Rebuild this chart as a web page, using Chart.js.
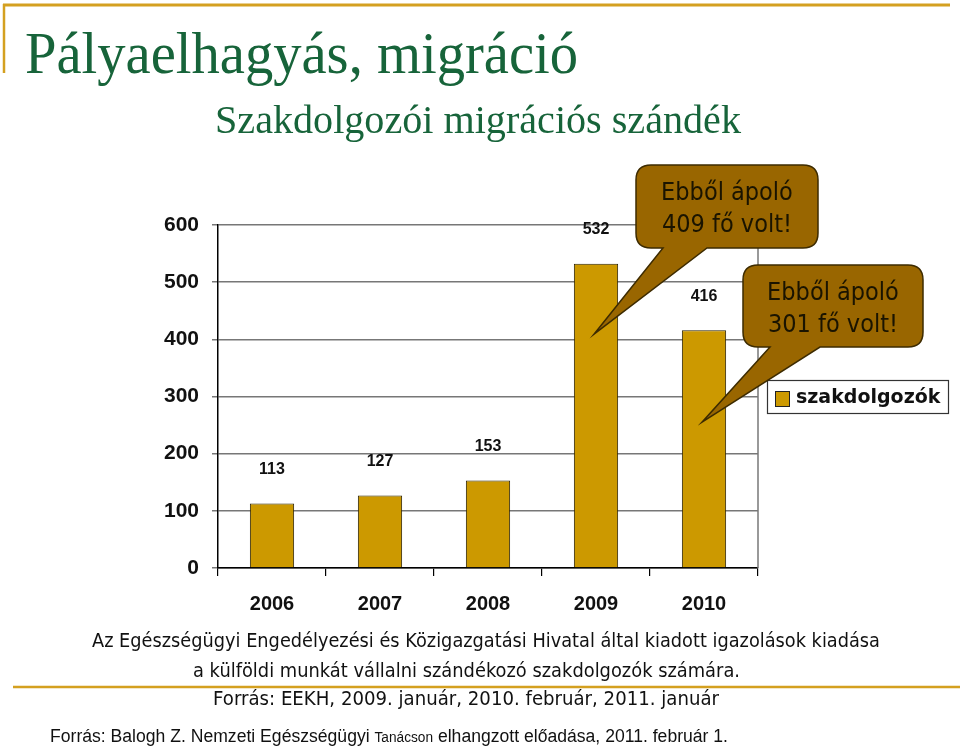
<!DOCTYPE html>
<html lang="hu">
<head>
<meta charset="utf-8">
<title>Pályaelhagyás, migráció</title>
<script src="https://cdn.jsdelivr.net/npm/chart.js@4.4.1/dist/chart.umd.min.js"></script>
<style>
  html, body { margin: 0; padding: 0; background: #fff; }
  #wrap { position: relative; width: 960px; height: 749px; overflow: hidden; }
  #c { position: absolute; left: 0; top: 0; }
  #page { position: absolute; left: 0; top: 0; pointer-events: none; }
</style>
</head>
<body>
<div id="wrap">
  <canvas id="c" width="960" height="749"></canvas>
  <svg id="page" width="960" height="749" xmlns="http://www.w3.org/2000/svg">
    <line x1="3" y1="5" x2="950" y2="5" stroke="#d4a020" stroke-width="3"/>
    <line x1="4" y1="4" x2="4" y2="73" stroke="#d4a020" stroke-width="2.5"/>
    <line x1="13" y1="687" x2="960" y2="687" stroke="#d4a020" stroke-width="2.5"/>
    <text x="25" y="73" font-family="'Liberation Serif', 'DejaVu Serif', serif" font-size="60" fill="#17643a"
          textLength="553" lengthAdjust="spacingAndGlyphs">Pályaelhagyás, migráció</text>
    <text x="215" y="133" font-family="'Liberation Serif', 'DejaVu Serif', serif" font-size="41" fill="#17643a"
          textLength="526" lengthAdjust="spacingAndGlyphs">Szakdolgozói migrációs szándék</text>
    <text x="92" y="647" font-family="'DejaVu Sans', sans-serif" font-size="19.5" fill="#111"
          textLength="788" lengthAdjust="spacingAndGlyphs">Az Egészségügyi Engedélyezési és Közigazgatási Hivatal által kiadott igazolások kiadása</text>
    <text x="193" y="677" font-family="'DejaVu Sans', sans-serif" font-size="19.5" fill="#111"
          textLength="547" lengthAdjust="spacingAndGlyphs">a külföldi munkát vállalni szándékozó szakdolgozók számára.</text>
    <text x="213" y="705" font-family="'DejaVu Sans', sans-serif" font-size="19.5" fill="#111"
          textLength="506" lengthAdjust="spacingAndGlyphs">Forrás: EEKH, 2009. január, 2010. február, 2011. január</text>
    <text x="50" y="742" font-family="'Liberation Sans', Arial, sans-serif" font-size="18" fill="#111"
          textLength="678" lengthAdjust="spacingAndGlyphs">Forrás: Balogh Z. Nemzeti Egészségügyi <tspan font-size="14">Tanácson</tspan> elhangzott előadása, 2011. február 1.</text>
  </svg>
</div>
<script>
// adatok
const years = ['2006', '2007', '2008', '2009', '2010'];
const applicants = [113, 127, 153, 532, 416];
const seriesName = 'szakdolgozók';
const yMin = 0;
const yMax = 600;
const yStep = 100;

// szövegbuborékok: melyik oszlopra mutatnak, a csúcs értéke és a szöveg
const calloutYears = ['2009', '2010'];
const calloutTipValues = [409, 255];
const calloutTexts = [
  ['Ebből ápoló', '409 fő volt!'],
  ['Ebből ápoló', '301 fő volt!']
];

const colors = {
  bar: '#cc9900',
  barBorder: '#2a2000',
  grid: '#777777',
  callout: '#996600',
  calloutBorder: '#3d2b00',
  text: '#111111'
};

// buborékok doboza (pixelben) – csak elrendezés
const calloutBoxes = [
  { l: 636, t: 165, w: 182, h: 83, baseL: 663, baseR: 707 },
  { l: 743, t: 265, w: 180, h: 82, baseL: 770, baseR: 820 }
];

function calloutPath(ctx, b, tx, ty) {
  const r = 15, R = b.l + b.w, B = b.t + b.h;
  ctx.beginPath();
  ctx.moveTo(b.l + r, b.t);
  ctx.lineTo(R - r, b.t);
  ctx.quadraticCurveTo(R, b.t, R, b.t + r);
  ctx.lineTo(R, B - r);
  ctx.quadraticCurveTo(R, B, R - r, B);
  ctx.lineTo(b.baseR, B);
  ctx.lineTo(tx, ty);
  ctx.lineTo(b.baseL, B);
  ctx.lineTo(b.l + r, B);
  ctx.quadraticCurveTo(b.l, B, b.l, B - r);
  ctx.lineTo(b.l, b.t + r);
  ctx.quadraticCurveTo(b.l, b.t, b.l + r, b.t);
  ctx.closePath();
}

const overlay = {
  id: 'overlay',
  afterDatasetsDraw(chart) {
    const { ctx, chartArea: a, scales } = chart;
    const meta = chart.getDatasetMeta(0);
    const ds = chart.data.datasets[0];
    ctx.save();

    // jobb oldali keret
    ctx.strokeStyle = colors.grid;
    ctx.lineWidth = 1.5;
    ctx.beginPath();
    ctx.moveTo(a.right, a.top);
    ctx.lineTo(a.right, a.bottom);
    ctx.stroke();

    // értékfeliratok
    ctx.fillStyle = colors.text;
    ctx.font = 'bold 16px "Liberation Sans", Arial, sans-serif';
    ctx.textAlign = 'center';
    ctx.textBaseline = 'middle';
    meta.data.forEach((bar, i) => {
      ctx.fillText(String(ds.data[i]), bar.x, bar.y - 34);
    });

    // jelmagyarázat
    ctx.fillStyle = '#fff';
    ctx.fillRect(767, 380, 181, 33);
    ctx.strokeStyle = '#333';
    ctx.lineWidth = 1.2;
    ctx.strokeRect(767.5, 380.5, 181, 33);
    ctx.fillStyle = ds.backgroundColor;
    ctx.fillRect(775, 391, 14, 15);
    ctx.strokeStyle = '#222';
    ctx.lineWidth = 1;
    ctx.strokeRect(775.5, 391.5, 14, 15);
    ctx.fillStyle = colors.text;
    ctx.font = 'bold 19px "DejaVu Sans", Verdana, sans-serif';
    ctx.textAlign = 'left';
    ctx.fillText(ds.label, 796, 398);

    // szövegbuborékok
    calloutYears.forEach((yr, k) => {
      const i = years.indexOf(yr);
      const tx = meta.data[i].x - 2;
      const ty = scales.y.getPixelForValue(calloutTipValues[k]);
      const b = calloutBoxes[k];
      calloutPath(ctx, b, tx, ty);
      ctx.fillStyle = colors.callout;
      ctx.fill();
      ctx.strokeStyle = colors.calloutBorder;
      ctx.lineWidth = 1.5;
      ctx.stroke();
      ctx.fillStyle = '#1a1400';
      ctx.font = '25px "DejaVu Sans Condensed", "DejaVu Sans", sans-serif';
      ctx.textAlign = 'center';
      ctx.textBaseline = 'alphabetic';
      calloutTexts[k].forEach((line, j) => {
        ctx.fillText(line, b.l + b.w / 2, b.t + 35 + j * 32);
      });
    });

    ctx.restore();
  }
};

new Chart(document.getElementById('c'), {
  type: 'bar',
  data: {
    labels: years,
    datasets: [{
      label: seriesName,
      data: applicants,
      backgroundColor: colors.bar,
      borderColor: colors.barBorder,
      borderWidth: 1,
      categoryPercentage: 1,
      barPercentage: 0.41
    }]
  },
  options: {
    responsive: false,
    animation: false,
    layout: { padding: { left: 158, right: 202, top: 225, bottom: 131 } },
    plugins: {
      legend: { display: false },
      title: { display: false },
      tooltip: { enabled: false }
    },
    scales: {
      x: {
        offset: true,
        grid: { offset: true, drawOnChartArea: false, color: '#000', tickLength: 8, lineWidth: 1.2 },
        border: { color: '#000', width: 1.5 },
        ticks: { color: '#111', padding: 16, font: { family: '"Liberation Sans", Arial, sans-serif', size: 20, weight: 'bold' } },
        afterFit: s => { s.height = 50; }
      },
      y: {
        min: yMin,
        max: yMax,
        ticks: { stepSize: yStep, color: '#111', padding: 13, font: { family: '"Liberation Sans", Arial, sans-serif', size: 21, weight: 'bold' } },
        grid: { color: colors.grid, lineWidth: 1.5, tickLength: 6 },
        border: { color: '#000', width: 1.5 },
        afterFit: s => { s.width = 60; }
      }
    }
  },
  plugins: [overlay]
});
</script>
</body>
</html>
